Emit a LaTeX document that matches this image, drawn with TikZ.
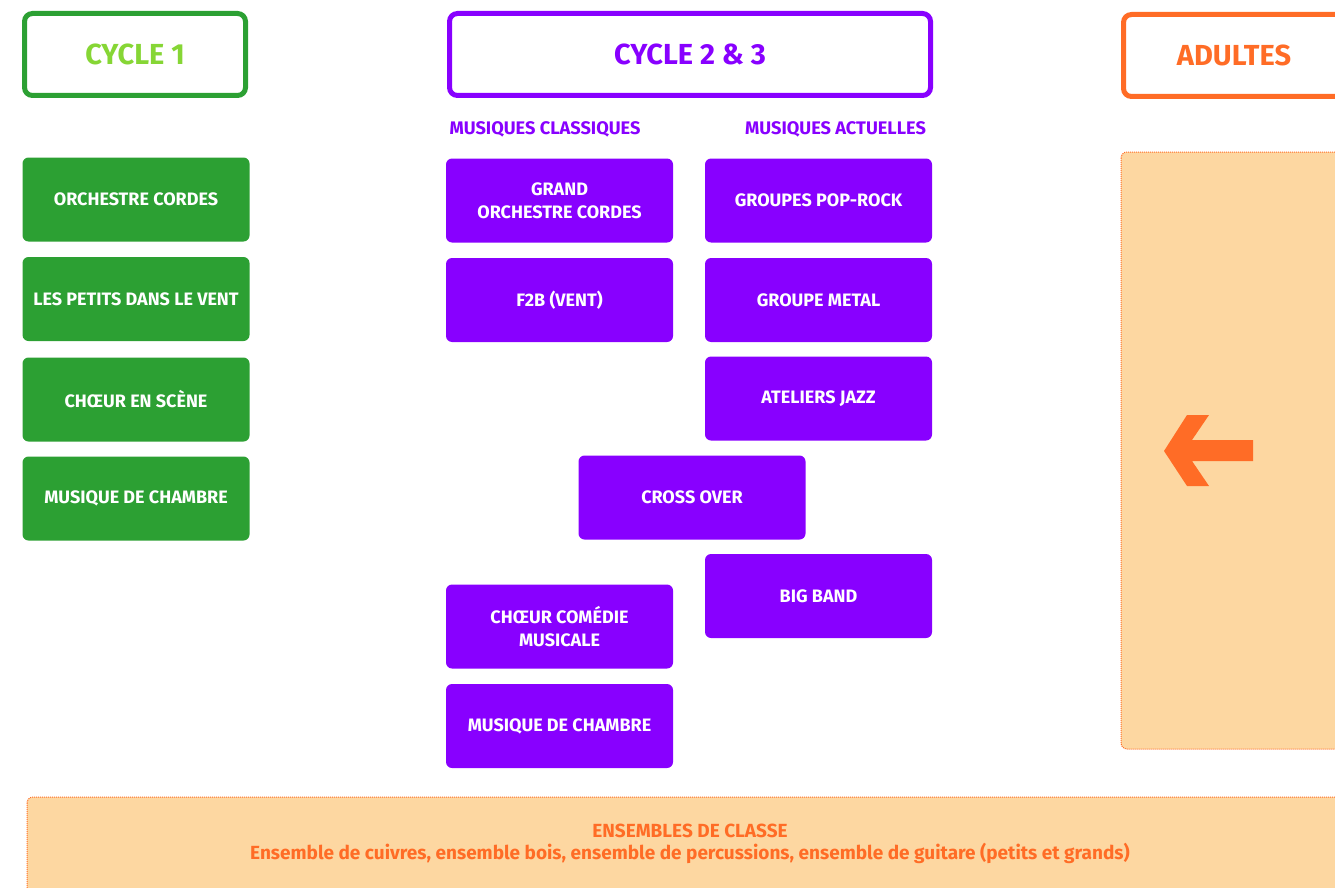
\documentclass[tikz,border=0pt]{standalone}
\usepackage{fontspec}
\setmainfont{Fira Sans}
\definecolor{cyclegreen}{RGB}{44,160,51}
\definecolor{cyclelime}{RGB}{134,214,53}
\definecolor{cyclepurple}{RGB}{136,0,255}
\definecolor{adultorange}{RGB}{255,108,38}
\definecolor{adultpeach}{RGB}{253,215,161}
\tikzset{
headbox/.style={draw, line width=5, rounded corners=8, fill=white,
  minimum width=221, minimum height=82, font=\fontsize{29}{34}\selectfont\bfseries},
groupbox/.style={rounded corners=6, minimum width=227, minimum height=84,
  text=white, align=center, font=\fontsize{18}{23}\selectfont\bfseries},
greenbox/.style={groupbox, fill=cyclegreen},
purplebox/.style={groupbox, fill=cyclepurple},
columnlabel/.style={text=cyclepurple, font=\fontsize{18.2}{20}\selectfont\bfseries},
peachzone/.style={fill=adultpeach, draw=adultorange, densely dotted, line width=1, rounded corners=6}}

\begin{document}
\begin{tikzpicture}[x=1pt,y=1pt,yscale=-1,xscale=1]

    \useasboundingbox (0,0) rectangle (1335,888);
    \clip (0,0) rectangle (1335,888);

    % column headers
    \node [headbox, draw=cyclegreen, text=cyclelime] (cycleone) at (135,54.5) {CYCLE 1};
    \node [headbox, draw=cyclepurple, text=cyclepurple, minimum width=481] (cycletwo) at (690,54.5) {CYCLE 2 \& 3};
    \node [headbox, draw=adultorange, text=adultorange] (adults) at (1234,55.5) {ADULTES};

    % cycle 1
    \node [greenbox] (c1cordes) at (136,199.5) {ORCHESTRE CORDES};
    \node [greenbox] (c1vent) at (136,299) {LES PETITS DANS LE VENT};
    \node [greenbox] (c1choeur) at (136,399.5) {CHŒUR EN SCÈNE};
    \node [greenbox] (c1chambre) at (136,498.5) {MUSIQUE DE CHAMBRE};

    % cycle 2 & 3
    \node [columnlabel] (classiques) at (545,129.5) {MUSIQUES CLASSIQUES};
    \node [columnlabel] (actuelles) at (835.5,129.5) {MUSIQUES ACTUELLES};

    \node [purplebox] (grandcordes) at (559.5,200.5) {GRAND\\ORCHESTRE CORDES};
    \node [purplebox] (ftwob) at (559.5,300) {F2B (VENT)};
    \node [purplebox] (comedie) at (559.5,626.5) {CHŒUR COMÉDIE\\MUSICALE};
    \node [purplebox] (chambre) at (559.5,726) {MUSIQUE DE CHAMBRE};

    \node [purplebox] (poprock) at (818.5,200.5) {GROUPES POP-ROCK};
    \node [purplebox] (metal) at (818.5,300) {GROUPE METAL};
    \node [purplebox] (jazz) at (818.5,398.5) {ATELIERS JAZZ};
    \node [purplebox] (bigband) at (818.5,596) {BIG BAND};

    \node [purplebox] (crossover) at (692,497.5) {CROSS OVER};

    % adultes
    \draw [peachzone] (1121,152) rectangle (1365,749);
    \fill [adultorange] (1164,451) -- (1187,415) -- (1209,415) -- (1192,440) -- (1253,440)
        -- (1253,461) -- (1192,461) -- (1209,486) -- (1187,486) -- cycle;

    % ensembles de classe
    \draw [peachzone] (27,797) rectangle (1365,920);
    \node [text=adultorange, align=center, font=\fontsize{19}{22.5}\selectfont\bfseries]
        (ensembles) at (690,844) {ENSEMBLES DE CLASSE\\Ensemble de cuivres, ensemble bois, ensemble de percussions, ensemble de guitare (petits et grands)};

\end{tikzpicture}
\end{document}
